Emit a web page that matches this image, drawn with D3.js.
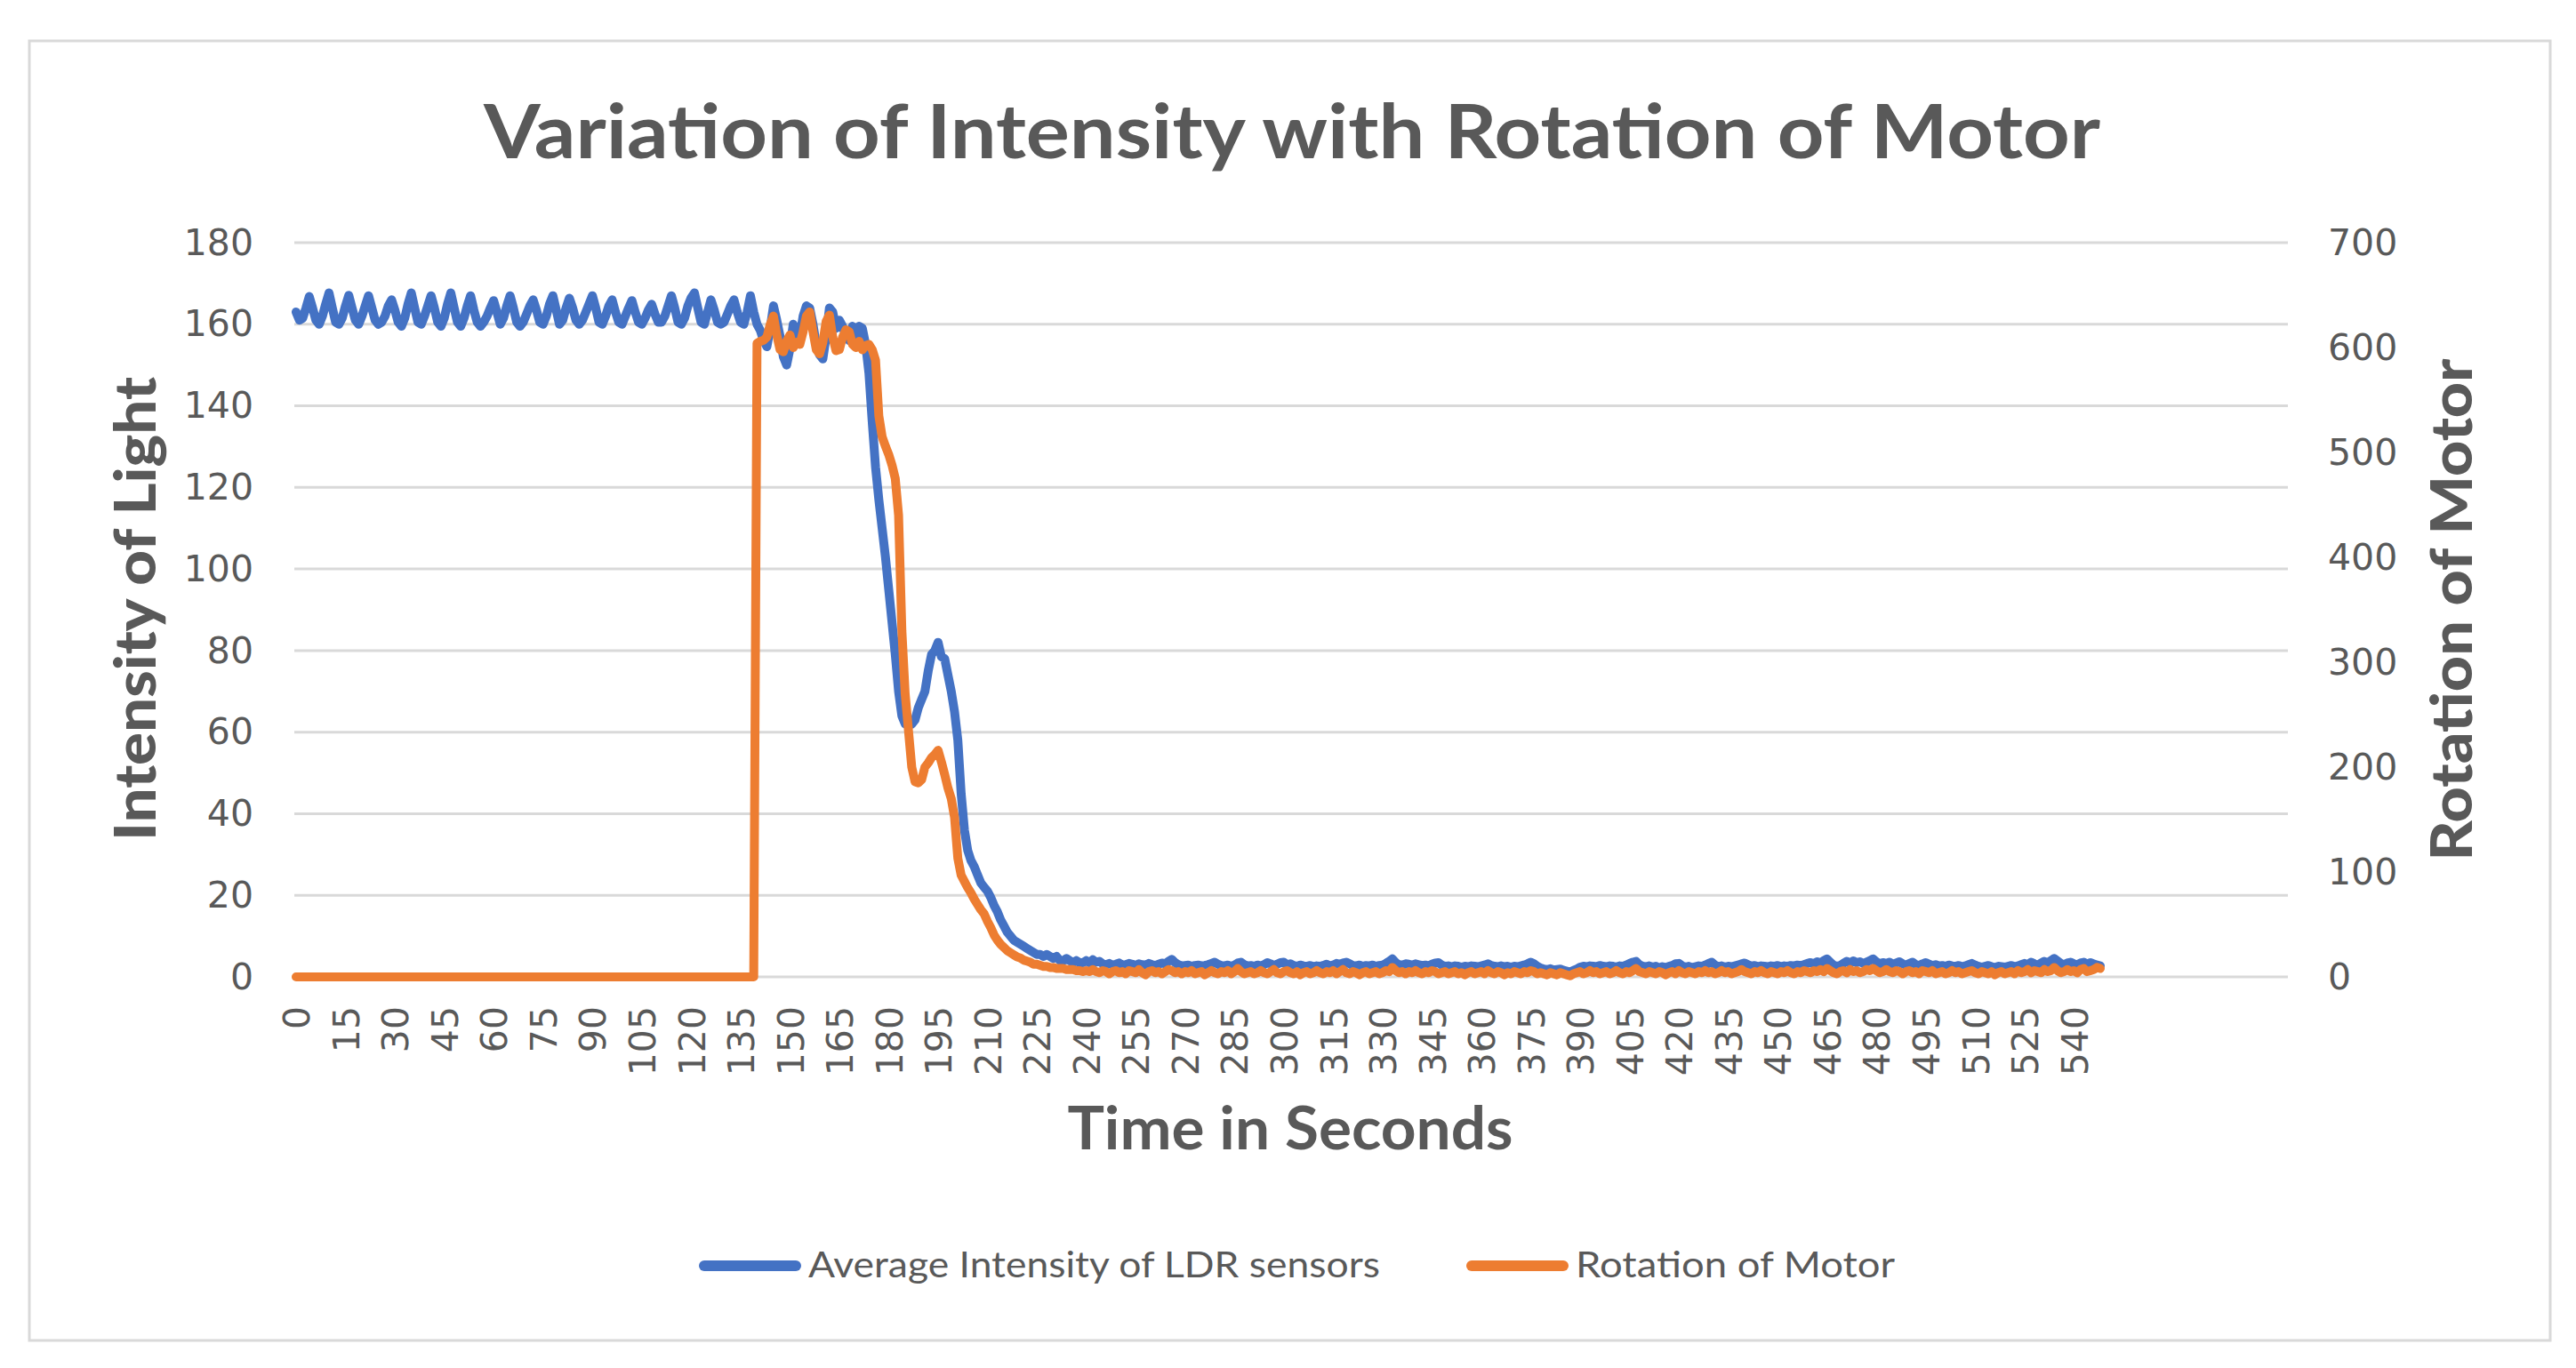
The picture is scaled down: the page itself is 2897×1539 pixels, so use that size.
<!DOCTYPE html>
<html>
<head>
<meta charset="utf-8">
<script src="https://d3js.org/d3.v7.min.js"></script>
<style>
  body { margin: 0; background: #fff; }
</style>
</head>
<body>
<script>
var width = 2897
var height = 1539

// one reading per second
var intensity = [
  163,161,161.5,164,166.8,164,161,160,162,165,
  167.7,164,160.5,160,161.5,164.5,167.1,164,161,160,
  162,164.5,167,164,161,160,160.5,162,164.5,166,
  163.5,160.5,159.5,161.5,165,167.7,164,160.5,160,162,
  164.5,167,164,160.5,159.5,161.5,165,167.7,164,160.5,
  159.5,161.5,164.5,167,163.5,160.5,159.5,160.5,162,164,
  165.8,163,160,161.5,164.5,167,164,160.5,159.5,160.5,
  162.5,164.5,166,163.5,160.5,160,162,165,167,163.5,
  160,161,164,166.4,164,161,160,161,163,165,
  167,164,160.5,160,162,164.5,166,163,160.5,160,
  162,164,165.8,163,160.5,160,161.5,163.5,164.9,162.5,
  160.5,160.5,162,164.5,167,164,160.5,160,161.5,164.5,
  166.5,167.7,164,160.5,160,163,166,163.5,160.5,160,
  160.5,162.5,164.5,166,163,160.5,160,163,167,163,
  160,158.5,156,154.5,159,164.5,161,157,152,150,
  154,160,158,157,162,164.5,164,160,155,152.5,
  151.5,157,164,163,159,161,159.5,157,156,159.5,
  156.5,159.5,159,155,148,136,125,117,110,103,
  95,87,79,70,64,62,62.5,62,63,66,
  68,70,75,79,80,82,78.5,78,74,70,
  65,58,45,36,31,28.5,27,25,23,22,
  21,19.5,17.5,16,14,12.5,11,10,9,8.5,
  8,7.5,7,6.5,6,5.5,5.5,5,5.5,5,
  4.5,5,4,4,4.5,4,3.5,4,3.5,3.5,
  4,3.5,4.2,3.6,3.8,3.2,3,3.3,2.9,3.1,
  3.4,2.9,3,3.3,3.1,2.8,3.2,3,2.9,3.3,
  3,2.8,3.1,3.4,3.2,3.8,4.3,3.5,3,2.7,
  2.8,2.9,2.6,2.8,2.9,2.7,2.8,3,3.3,3.6,
  3.1,2.8,2.7,2.9,2.6,2.9,3.4,3.6,3,2.7,
  2.8,2.6,2.9,2.7,3,3.5,3.2,2.8,3.1,3.5,
  3.6,3,3.2,2.8,2.6,2.9,2.7,2.6,2.8,2.5,
  2.7,2.6,2.8,3.1,2.7,2.9,3.3,3.1,3.4,3.6,
  3.2,2.8,2.7,2.9,2.6,2.8,2.7,2.9,2.6,2.8,
  2.9,3.3,3.8,4.4,3.5,3,2.9,3.2,3.1,2.9,
  3.2,3,2.8,2.9,2.7,3.1,3.4,3.5,2.9,2.6,
  2.7,2.5,2.7,2.6,2.4,2.6,2.5,2.7,2.6,2.5,
  2.7,2.9,3.2,2.8,2.6,2.5,2.7,2.5,2.6,2.4,
  2.6,2.5,2.7,2.9,3.2,3.6,3.2,2.6,2.2,1.9,
  1.8,2,1.7,1.8,1.9,1.6,1.4,1.2,1.6,1.9,
  2.4,2.6,2.5,2.7,2.6,2.5,2.8,2.6,2.5,2.7,
  2.6,2.4,2.7,2.6,2.9,3.3,3.6,3.8,3,2.6,
  2.5,2.7,2.4,2.6,2.2,2.5,2.3,2.6,2.8,3.2,
  3.3,2.7,2.4,2.6,2.3,2.5,2.7,2.6,2.9,3.3,
  3.6,2.9,2.5,2.7,2.4,2.6,2.5,2.7,2.9,3.2,
  3.4,3,2.6,2.8,2.5,2.7,2.6,2.5,2.7,2.6,
  2.8,2.5,2.7,2.6,2.8,2.7,2.9,2.8,3,3.3,
  3.5,3.2,3.7,3.4,4,4.4,3.6,2.9,2.6,2.8,
  3.3,3.8,3.4,3.9,3.5,3.7,3.3,3.6,4,4.4,
  3.7,3.2,3.5,3.3,3.6,3.1,3.4,3.7,3.2,2.9,
  3.3,3.6,3,2.8,3.2,3.5,3.1,2.8,3,2.7,
  2.8,2.6,2.9,2.7,2.6,2.8,2.5,2.7,3,3.3,
  2.9,2.6,2.4,2.6,2.8,2.5,2.3,2.6,2.5,2.4,
  2.6,2.8,2.5,2.7,3,3.3,3,3.6,3.2,2.9,
  3.4,3.8,3.5,4,4.5,3.9,3.3,3,3.4,3.6,
  3.2,3,3.4,3.6,3.1,3.5,3.2,2.9,2.7
]

var rotation = [
  0,0,0,0,0,0,0,0,0,0,0,0,0,0,0,0,0,0,0,0,
  0,0,0,0,0,0,0,0,0,0,0,0,0,0,0,0,0,0,0,0,
  0,0,0,0,0,0,0,0,0,0,0,0,0,0,0,0,0,0,0,0,
  0,0,0,0,0,0,0,0,0,0,0,0,0,0,0,0,0,0,0,0,
  0,0,0,0,0,0,0,0,0,0,0,0,0,0,0,0,0,0,0,0,
  0,0,0,0,0,0,0,0,0,0,0,0,0,0,0,0,0,0,0,0,
  0,0,0,0,0,0,0,0,0,0,0,0,0,0,0,0,0,0,0,0,
  604,606,607,610,622,630,612,598,596,606,
  612,600,605,603,615,630,634,615,598,594,
  605,625,631,610,597,598,610,617,615,603,
  600,606,598,602,603,598,588,535,515,506,
  498,488,475,440,330,270,235,200,186,185,
  188,200,204,209,212,216,205,193,180,170,
  152,113,97,91,85,80,74,69,64,60,
  53,47,40,35,31,28,25,23,21,19,
  18,16,15,14,12,12,11,10,10,9,
  9,8,8,8,7,7,7,6,6,5,
  6,5,7,5,4,6,5,3,5,6,
  4,5,3,6,5,4,7,4,2,5,
  6,4,5,3,5,7,6,4,5,3,
  5,4,6,3,4,5,2,4,6,4,
  3,5,4,6,3,5,8,5,3,4,
  5,3,4,6,4,3,5,7,4,3,
  5,6,4,3,5,2,4,5,3,4,
  6,4,3,5,4,6,3,5,7,4,
  3,5,4,2,4,5,3,4,5,3,
  4,6,5,9,6,4,5,3,5,4,
  6,4,3,5,4,6,5,3,4,5,
  3,4,5,3,4,2,4,5,3,4,
  5,3,6,4,3,5,4,2,4,3,
  5,4,3,5,4,6,5,3,4,3,
  2,4,3,2,4,3,2,1,3,4,
  5,3,4,6,4,5,3,4,5,3,
  4,6,4,3,5,4,6,8,5,4,
  3,5,4,3,5,4,2,4,5,3,
  6,4,3,5,4,3,5,4,6,4,
  5,3,4,6,4,5,3,4,5,7,
  5,4,3,5,4,6,4,3,5,4,
  3,5,4,6,4,3,5,4,6,5,
  4,6,5,7,5,8,6,4,3,5,
  6,4,7,5,6,4,5,7,6,8,
  6,4,5,7,5,4,6,5,3,5,
  6,4,5,3,6,5,4,6,3,4,
  5,3,4,6,4,5,3,4,5,6,
  4,3,5,4,3,5,2,4,5,3,
  4,5,3,6,4,5,7,4,6,5,
  4,7,5,6,9,6,4,5,7,5,
  6,4,7,8,5,6,7,9,8
]

var xTicks = [0,15,30,45,60,75,90,105,120,135,150,165,180,195,210,225,240,255,270,
              285,300,315,330,345,360,375,390,405,420,435,450,465,480,495,510,525,540]
var leftTicks = [0,20,40,60,80,100,120,140,160,180]
var rightTicks = [0,100,200,300,400,500,600,700]

var seriesNames = ["Average Intensity of LDR sensors", "Rotation of Motor"]
var colors = ["#4472c4", "#ed7d31"]
var textColor = "#595959"

// the category axis runs past the last reading (empty rows in the sheet)
var nCategories = 606

var plot = { left: 333, right: 2573, top: 273, bottom: 1099 }

var svg = d3.select("body")
            .append("svg")
            .attr("width", width)
            .attr("height", height)

svg.append("rect")
   .attr("x", 33).attr("y", 46)
   .attr("width", 2835).attr("height", 1462)
   .attr("fill", "#fff")
   .attr("stroke", "#d9d9d9")
   .attr("stroke-width", 3)

var x = d3.scaleLinear().domain([0, nCategories - 1]).range([plot.left, plot.right])
var yLeft = d3.scaleLinear().domain([0, 180]).range([plot.bottom, plot.top])
var yRight = d3.scaleLinear().domain([0, 700]).range([plot.bottom, plot.top])

// gridlines
svg.append("g")
   .selectAll("line")
   .data(leftTicks)
   .enter()
   .append("line")
   .attr("x1", plot.left - 2)
   .attr("x2", plot.right)
   .attr("y1", function(d){ return yLeft(d) })
   .attr("y2", function(d){ return yLeft(d) })
   .attr("stroke", "#d9d9d9")
   .attr("stroke-width", 3)

function styleTicks(g) {
  g.select(".domain").remove()
  g.selectAll(".tick line").remove()
  g.selectAll("text")
   .attr("font-family", "'DejaVu Sans', Verdana, sans-serif")
   .attr("font-size", 41)
   .attr("fill", textColor)
}

var leftAxis = svg.append("g")
   .attr("transform", "translate(" + plot.left + ",0)")
   .call(d3.axisLeft(yLeft).tickValues(leftTicks).tickSize(0).tickPadding(48))
styleTicks(leftAxis)

var rightAxis = svg.append("g")
   .attr("transform", "translate(" + plot.right + ",0)")
   .call(d3.axisRight(yRight).tickValues(rightTicks).tickSize(0).tickPadding(45))
styleTicks(rightAxis)

var bottomAxis = svg.append("g")
   .attr("transform", "translate(0," + plot.bottom + ")")
   .call(d3.axisBottom(x).tickValues(xTicks).tickSize(0))
styleTicks(bottomAxis)
bottomAxis.selectAll("text")
   .attr("transform", "rotate(-90)")
   .attr("x", -33)
   .attr("y", 0)
   .attr("dy", "0.36em")
   .style("text-anchor", "end")

// series
var lineLeft = d3.line()
  .x(function(d, i){ return x(i) })
  .y(function(d){ return yLeft(d) })

var lineRight = d3.line()
  .x(function(d, i){ return x(i) })
  .y(function(d){ return yRight(d) })

svg.append("path")
   .datum(intensity)
   .attr("d", lineLeft)
   .attr("fill", "none")
   .attr("stroke", colors[0])
   .attr("stroke-width", 10)
   .attr("stroke-linejoin", "round")
   .attr("stroke-linecap", "round")

svg.append("path")
   .datum(rotation)
   .attr("d", lineRight)
   .attr("fill", "none")
   .attr("stroke", colors[1])
   .attr("stroke-width", 10)
   .attr("stroke-linejoin", "round")
   .attr("stroke-linecap", "round")

// titles
var titleFont = "Lato, 'Open Sans', sans-serif"

svg.append("text")
   .attr("x", 1453).attr("y", 178)
   .attr("text-anchor", "middle")
   .attr("font-family", titleFont)
   .attr("font-weight", "bold")
   .attr("font-size", 85)
   .attr("fill", textColor)
   .attr("textLength", 1818)
   .attr("lengthAdjust", "spacingAndGlyphs")
   .text("Variation of Intensity with Rotation of Motor")

svg.append("text")
   .attr("x", 1451).attr("y", 1293)
   .attr("text-anchor", "middle")
   .attr("font-family", titleFont)
   .attr("font-weight", "bold")
   .attr("font-size", 67)
   .attr("fill", textColor)
   .attr("textLength", 501)
   .attr("lengthAdjust", "spacingAndGlyphs")
   .text("Time in Seconds")

svg.append("text")
   .attr("transform", "translate(175,685) rotate(-90)")
   .attr("text-anchor", "middle")
   .attr("font-family", titleFont)
   .attr("font-weight", "900")
   .attr("font-size", 65)
   .attr("fill", textColor)
   .attr("textLength", 522)
   .attr("lengthAdjust", "spacingAndGlyphs")
   .text("Intensity of Light")

svg.append("text")
   .attr("transform", "translate(2780,686) rotate(-90)")
   .attr("text-anchor", "middle")
   .attr("font-family", titleFont)
   .attr("font-weight", "900")
   .attr("font-size", 65)
   .attr("fill", textColor)
   .attr("textLength", 565)
   .attr("lengthAdjust", "spacingAndGlyphs")
   .text("Rotation of Motor")

// legend
var legendItems = [
  { name: seriesNames[0], color: colors[0], x: 792, textWidth: 643 },
  { name: seriesNames[1], color: colors[1], x: 1655, textWidth: 359 }
]

var legend = svg.selectAll("g.legend")
  .data(legendItems)
  .enter()
  .append("g")
  .classed("legend", true)
  .attr("transform", function(d){ return "translate(" + d.x + ",1424)" })

legend.append("line")
  .attr("x1", 0).attr("x2", 103)
  .attr("y1", 0).attr("y2", 0)
  .attr("stroke", function(d){ return d.color })
  .attr("stroke-width", 12)
  .attr("stroke-linecap", "round")

legend.append("text")
  .attr("x", 117).attr("y", 13)
  .attr("font-family", titleFont)
  .attr("font-size", 40)
  .attr("fill", textColor)
  .attr("textLength", function(d){ return d.textWidth })
  .attr("lengthAdjust", "spacingAndGlyphs")
  .text(function(d){ return d.name })
</script>
</body>
</html>
